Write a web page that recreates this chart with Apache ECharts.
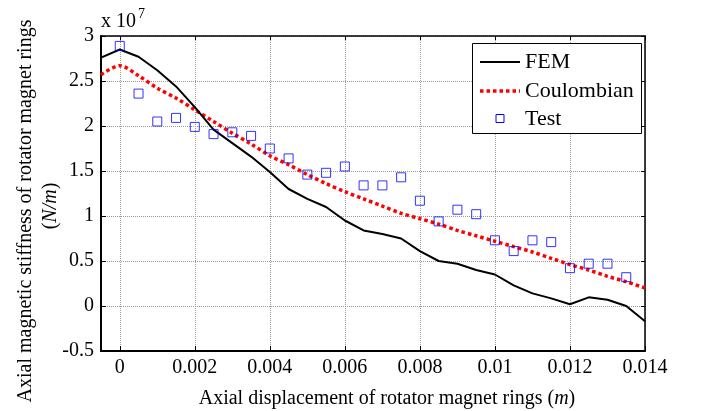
<!DOCTYPE html>
<html>
<head>
<meta charset="utf-8">
<script src="https://cdn.jsdelivr.net/npm/echarts@6/dist/echarts.min.js"></script>
<style>html,body{margin:0;padding:0;background:#fff;}#c{width:701px;height:411px;}</style>
</head>
<body>
<div id="c"></div>
<script>
// Axial displacement (m)
var xLine = [-0.0005, 0, 0.0005, 0.001, 0.0015, 0.002, 0.0025, 0.003, 0.0035, 0.004, 0.0045, 0.005, 0.0055, 0.006, 0.0065, 0.007, 0.0075, 0.008, 0.0085, 0.009, 0.0095, 0.01, 0.0105, 0.011, 0.0115, 0.012, 0.0125, 0.013, 0.0135, 0.014];
// Stiffness, units of 1e7 N/m
var femValues = [2.76, 2.85, 2.77, 2.62, 2.44, 2.21, 1.96, 1.81, 1.66, 1.49, 1.30, 1.19, 1.10, 0.95, 0.84, 0.80, 0.75, 0.61, 0.50, 0.47, 0.40, 0.35, 0.23, 0.14, 0.085, 0.02, 0.096, 0.07, 0.0, -0.17];
var coulombValues = [2.57, 2.67, 2.56, 2.42, 2.31, 2.18, 2.05, 1.92, 1.80, 1.67, 1.57, 1.46, 1.36, 1.27, 1.19, 1.11, 1.03, 0.97, 0.91, 0.84, 0.78, 0.72, 0.66, 0.60, 0.53, 0.46, 0.40, 0.33, 0.27, 0.20];
var xTest = [0, 0.0005, 0.001, 0.0015, 0.002, 0.0025, 0.003, 0.0035, 0.004, 0.0045, 0.005, 0.0055, 0.006, 0.0065, 0.007, 0.0075, 0.008, 0.0085, 0.009, 0.0095, 0.01, 0.0105, 0.011, 0.0115, 0.012, 0.0125, 0.013, 0.0135];
var testValues = [2.89, 2.36, 2.05, 2.09, 1.99, 1.91, 1.93, 1.89, 1.75, 1.64, 1.46, 1.48, 1.55, 1.34, 1.34, 1.43, 1.17, 0.94, 1.07, 1.02, 0.73, 0.61, 0.73, 0.71, 0.42, 0.47, 0.47, 0.32];
var xTicks = [0, 0.002, 0.004, 0.006, 0.008, 0.01, 0.012, 0.014];
var seriesNames = ['FEM', 'Coulombian', 'Test'];

function pairs(xs, ys) { return xs.map(function (x, i) { return [x, ys[i]]; }); }

var FONT = '"Liberation Serif", "Times New Roman", serif';
var chart = echarts.init(document.getElementById('c'), null, { renderer: 'canvas' });

var xBase = { type: 'value', min: -0.0005, max: 0.014 };
var option = {
  animation: false,
  backgroundColor: '#fff',
  grid: { left: 101, right: 56, top: 36, bottom: 60, containLabel: false },
  xAxis: [
    Object.assign({}, xBase, {
      position: 'bottom',
      axisLine: { show: true, onZero: false, lineStyle: { color: '#000', width: 2 } },
      axisTick: { show: true, inside: true, length: 5, customValues: xTicks, lineStyle: { color: '#000', width: 1 } },
      axisLabel: { customValues: xTicks, color: '#000', fontFamily: FONT, fontSize: 20, margin: 7,
        formatter: function (v) { return String(+v.toFixed(4)); } },
      splitLine: { show: true, lineStyle: { color: '#999', type: [1, 1], width: 1 } }
    }),
    Object.assign({}, xBase, {
      position: 'top',
      axisLine: { show: true, onZero: false, lineStyle: { color: '#000', width: 1.5 } },
      axisTick: { show: true, inside: true, length: 4, customValues: xTicks, lineStyle: { color: '#000' } },
      axisLabel: { show: false },
      splitLine: { show: false }
    })
  ],
  yAxis: [
    {
      type: 'value', min: -0.5, max: 3, interval: 0.5, position: 'left',
      axisLine: { show: true, onZero: false, lineStyle: { color: '#000', width: 2 } },
      axisTick: { show: true, inside: true, length: 5, lineStyle: { color: '#000' } },
      axisLabel: { color: '#000', fontFamily: FONT, fontSize: 20, margin: 7 },
      splitLine: { show: true, lineStyle: { color: '#999', type: [1, 1], width: 1 } }
    },
    {
      type: 'value', min: -0.5, max: 3, interval: 0.5, position: 'right',
      axisLine: { show: true, onZero: false, lineStyle: { color: '#000', width: 1.5 } },
      axisTick: { show: true, inside: true, length: 4, lineStyle: { color: '#000' } },
      axisLabel: { show: false },
      splitLine: { show: false }
    }
  ],
  series: [
    { name: seriesNames[0], type: 'line', xAxisIndex: 0, yAxisIndex: 0, data: pairs(xLine, femValues),
      showSymbol: false, symbol: 'none', lineStyle: { color: '#000', width: 2 }, z: 3 },
    { name: seriesNames[1], type: 'line', xAxisIndex: 0, yAxisIndex: 0, data: pairs(xLine, coulombValues),
      showSymbol: false, symbol: 'none', smooth: 0.3,
      lineStyle: { color: '#ff0000', width: 3.5, type: [3.5, 3], cap: 'butt' }, z: 2 },
    { name: seriesNames[2], type: 'scatter', xAxisIndex: 0, yAxisIndex: 0, data: pairs(xTest, testValues),
      symbol: 'rect', symbolSize: 9,
      itemStyle: { color: 'rgba(0,0,0,0)', borderColor: '#0000ff', borderWidth: 1 }, z: 4 }
  ],
  graphic: [
    // multiplier
    { type: 'text', x: 101, y: 22, z: 50, style: { text: 'x 10', font: '20px ' + FONT, fill: '#000', textVerticalAlign: 'middle' } },
    { type: 'text', x: 138, y: 14, z: 50, style: { text: '7', font: '14px ' + FONT, fill: '#000', textVerticalAlign: 'middle' } },
    // y axis title
    { type: 'text', x: 26, y: 211, rotation: Math.PI / 2, z: 50,
      style: { text: 'Axial magnetic stiffness of rotator magnet rings', font: '20px ' + FONT, fill: '#000', textAlign: 'center', textVerticalAlign: 'middle' } },
    { type: 'text', x: 51, y: 206, rotation: Math.PI / 2, z: 50,
      style: { text: '{n|(}{i|N/m}{n|)}', font: '20px ' + FONT, fill: '#000', textAlign: 'center', textVerticalAlign: 'middle',
        rich: { n: { fontFamily: FONT, fontSize: 20, fill: '#000' }, i: { fontFamily: FONT, fontSize: 20, fontStyle: 'italic', fill: '#000' } } } },
    // x axis title
    { type: 'text', x: 387, y: 399, z: 50,
      style: { text: '{n|Axial displacement of rotator magnet rings (}{i|m}{n|)}', font: '20px ' + FONT, fill: '#000', textAlign: 'center', textVerticalAlign: 'middle',
        rich: { n: { fontFamily: FONT, fontSize: 20, fill: '#000' }, i: { fontFamily: FONT, fontSize: 20, fontStyle: 'italic', fill: '#000' } } } },
    // legend
    { type: 'group', z: 100, children: [
      { type: 'rect', shape: { x: 472.5, y: 43.5, width: 169, height: 90 }, style: { fill: '#fff', stroke: '#000', lineWidth: 1 }, z: 100 },
      { type: 'line', shape: { x1: 480, y1: 62, x2: 520, y2: 62 }, style: { stroke: '#000', lineWidth: 2 }, z: 101 },
      { type: 'line', shape: { x1: 480, y1: 91, x2: 520, y2: 91 }, style: { stroke: '#ff0000', lineWidth: 3.5, lineDash: [3.5, 3] }, z: 101 },
      { type: 'rect', shape: { x: 496, y: 114.5, width: 8, height: 8 }, style: { fill: 'none', stroke: '#0000ff', lineWidth: 1 }, z: 101 },
      { type: 'text', x: 525, y: 62, z: 101, style: { text: seriesNames[0], font: '22px ' + FONT, fill: '#000', textVerticalAlign: 'middle' } },
      { type: 'text', x: 525, y: 91, z: 101, style: { text: seriesNames[1], font: '22px ' + FONT, fill: '#000', textVerticalAlign: 'middle' } },
      { type: 'text', x: 525, y: 119, z: 101, style: { text: seriesNames[2], font: '22px ' + FONT, fill: '#000', textVerticalAlign: 'middle' } }
    ] }
  ]
};
chart.setOption(option);
</script>
</body>
</html>
